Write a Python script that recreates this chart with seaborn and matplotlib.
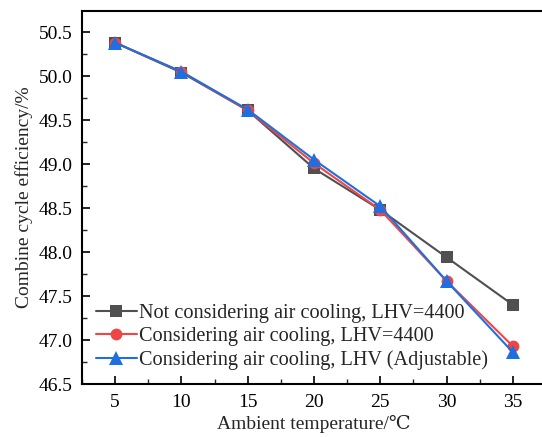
import matplotlib
matplotlib.use("Agg")
import matplotlib.pyplot as plt
import seaborn as sns
import pandas as pd
from matplotlib.ticker import MultipleLocator

temps = [5, 10, 15, 20, 25, 30, 35]
not_cooling = [50.38, 50.04, 49.61, 48.95, 48.48, 47.94, 47.40]
cooling_4400 = [50.38, 50.05, 49.61, 49.01, 48.48, 47.67, 46.93]
cooling_adj = [50.38, 50.05, 49.62, 49.05, 48.52, 47.67, 46.86]
labels = ["Not considering air cooling, LHV=4400",
          "Considering air cooling, LHV=4400",
          "Considering air cooling, LHV (Adjustable)"]

sns.set_style("ticks")
plt.rcParams['font.family'] = ['Liberation Serif', 'DejaVu Serif']

fig = plt.figure(figsize=(5.42, 4.37), dpi=100)
ax = fig.add_axes([82/542, 1-384/437, (546-82)/542, (384-11)/437])

colors = ["#505050", "#f04545", "#1f6fe0"]
markers = ["s", "o", "^"]
msizes = [8, 8.5, 10]
for vals, lab, c, m, ms in zip([not_cooling, cooling_4400, cooling_adj], labels, colors, markers, msizes):
    df = pd.DataFrame({"T": temps, "eff": vals})
    sns.lineplot(data=df, x="T", y="eff", ax=ax, color=c, marker=m, markersize=ms,
                 markeredgewidth=0, linewidth=1.5, label=lab)

ax.set_xlim(2.5, 37.5)
ax.set_ylim(46.5, 50.74)
ax.set_xticks(temps)
ax.xaxis.set_minor_locator(MultipleLocator(2.5))
ax.yaxis.set_major_locator(MultipleLocator(0.5))
ax.yaxis.set_minor_locator(MultipleLocator(0.25))
ax.yaxis.set_major_formatter(matplotlib.ticker.FormatStrFormatter('%.1f'))
ax.tick_params(axis='both', which='major', direction='in', length=6, width=1.2,
               labelsize=14, colors='black', pad=7)
ax.tick_params(axis='both', which='minor', direction='in', length=3.5, width=1.0)
for s in ax.spines.values():
    s.set_linewidth(1.5)
    s.set_color('black')

ax.set_xlabel("Ambient temperature/℃", fontsize=14, labelpad=3)
ax.set_ylabel("Combine cycle efficiency/%", fontsize=14, labelpad=4)

ax.legend(loc='lower left', frameon=False, fontsize=14.6, handlelength=2.0,
          handletextpad=0.1, borderaxespad=0.3, labelspacing=0.2,
          bbox_to_anchor=(0.0, 0.0))

fig.savefig("out.png", dpi=100)
